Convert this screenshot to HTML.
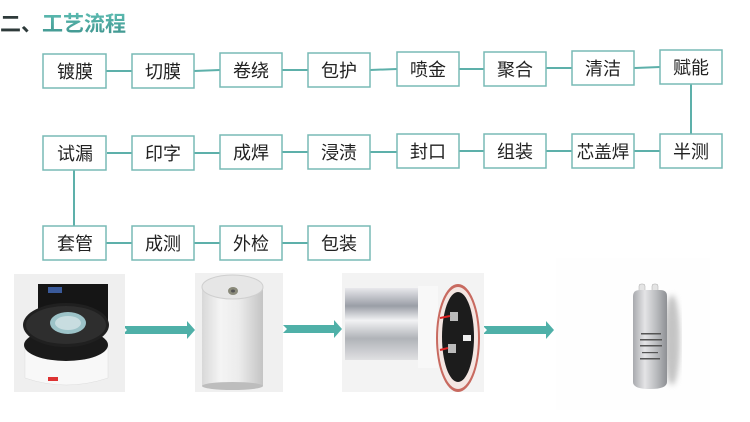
<!DOCTYPE html>
<html><head><meta charset="utf-8"><style>
html,body{margin:0;padding:0;background:#fff;}
svg{display:block;}
text{font-family:"Liberation Sans","Noto Sans CJK SC",sans-serif;}
</style></head><body>
<svg width="750" height="422" viewBox="0 0 750 422" xmlns="http://www.w3.org/2000/svg">
<defs>
<linearGradient id="tg" x1="0" y1="0" x2="0" y2="1"><stop offset="0" stop-color="#5bbab0"/><stop offset="1" stop-color="#3f948e"/></linearGradient>
<linearGradient id="cyl" x1="0" y1="0" x2="1" y2="0"><stop offset="0" stop-color="#d8d8d8"/><stop offset="0.3" stop-color="#f4f4f4"/><stop offset="0.6" stop-color="#ececec"/><stop offset="1" stop-color="#c4c4c4"/></linearGradient>
<linearGradient id="silv" x1="0" y1="0" x2="0" y2="1"><stop offset="0" stop-color="#e8e8ec"/><stop offset="0.25" stop-color="#9a9ea6"/><stop offset="0.45" stop-color="#f2f2f4"/><stop offset="0.7" stop-color="#b0b3b8"/><stop offset="1" stop-color="#e0e0e2"/></linearGradient>
<linearGradient id="cap" x1="0" y1="0" x2="1" y2="0"><stop offset="0" stop-color="#a8aaae"/><stop offset="0.35" stop-color="#e4e4e6"/><stop offset="0.7" stop-color="#b8babd"/><stop offset="1" stop-color="#8e9094"/></linearGradient>
<filter id="bl"><feGaussianBlur stdDeviation="3"/></filter>
</defs>

<!-- title -->
<text x="0" y="31" font-size="21" font-weight="bold" fill="#2e3a3a">二、<tspan fill="url(#tg)">工艺流程</tspan></text>

<!-- connectors -->
<g stroke="#5db0aa" stroke-width="2" fill="none">
<line x1="106" y1="71" x2="132" y2="71"/>
<line x1="194" y1="71" x2="220" y2="70"/>
<line x1="282" y1="70" x2="308" y2="70"/>
<line x1="370" y1="70" x2="397" y2="69"/>
<line x1="459" y1="69" x2="484" y2="69"/>
<line x1="546" y1="68" x2="572" y2="68"/>
<line x1="634" y1="68" x2="660" y2="67"/>
<line x1="691" y1="84" x2="691" y2="134"/>
<line x1="660" y1="151" x2="634" y2="151"/>
<line x1="572" y1="151" x2="546" y2="151"/>
<line x1="484" y1="151" x2="459" y2="151"/>
<line x1="397" y1="152" x2="370" y2="152"/>
<line x1="308" y1="152" x2="282" y2="152"/>
<line x1="220" y1="153" x2="194" y2="153"/>
<line x1="132" y1="153" x2="107" y2="153"/>
<line x1="74" y1="170" x2="74" y2="226"/>
<line x1="106" y1="243" x2="132" y2="243"/>
<line x1="194" y1="243" x2="220" y2="243"/>
<line x1="282" y1="243" x2="308" y2="243"/>
</g>

<!-- boxes -->
<g stroke="#78bab5" stroke-width="1.5" fill="#fff">
<rect x="43" y="54" width="63" height="34"/>
<rect x="132" y="54" width="62" height="34"/>
<rect x="220" y="53" width="62" height="34"/>
<rect x="308" y="53" width="62" height="34"/>
<rect x="397" y="52" width="62" height="34"/>
<rect x="484" y="52" width="62" height="34"/>
<rect x="572" y="51" width="62" height="34"/>
<rect x="660" y="50" width="62" height="34"/>
<rect x="43" y="136" width="63" height="34"/>
<rect x="132" y="136" width="62" height="34"/>
<rect x="220" y="135" width="62" height="34"/>
<rect x="308" y="135" width="62" height="34"/>
<rect x="397" y="134" width="62" height="34"/>
<rect x="484" y="134" width="62" height="34"/>
<rect x="572" y="134" width="62" height="34"/>
<rect x="660" y="134" width="62" height="34"/>
<rect x="43" y="226" width="63" height="34"/>
<rect x="132" y="226" width="62" height="34"/>
<rect x="220" y="226" width="62" height="34"/>
<rect x="308" y="226" width="62" height="34"/>
</g>

<g font-size="18" fill="#222" text-anchor="middle">
<text x="75" y="78">镀膜</text>
<text x="163" y="78">切膜</text>
<text x="251" y="77">卷绕</text>
<text x="339" y="77">包护</text>
<text x="428" y="76">喷金</text>
<text x="515" y="76">聚合</text>
<text x="603" y="75">清洁</text>
<text x="691" y="74">赋能</text>
<text x="75" y="160">试漏</text>
<text x="163" y="160">印字</text>
<text x="251" y="159">成焊</text>
<text x="339" y="159">浸渍</text>
<text x="428" y="158">封口</text>
<text x="515" y="158">组装</text>
<text x="603" y="158" font-size="17.5">芯盖焊</text>
<text x="691" y="158">半测</text>
<text x="75" y="250">套管</text>
<text x="163" y="250">成测</text>
<text x="251" y="250">外检</text>
<text x="339" y="250">包装</text>
</g>

<!-- big arrows -->
<g fill="#4fb0a8">
<polygon points="123,326 187,326 187,321 195,330 187,339 187,334 123,334 127,330"/>
<polygon points="283,325 334,325 334,320 342,329 334,338 334,333 283,333 287,329"/>
<polygon points="483,326 546,326 546,321 554,330 546,339 546,334 483,334 487,330"/>
</g>

<!-- photo 1: film roll -->
<rect x="14" y="274" width="111" height="118" fill="#efefef"/>
<path d="M25 345 L25 378 Q66 392 108 378 L108 345 Z" fill="#f8f8f8" stroke="#ddd" stroke-width="0.5"/>
<ellipse cx="66" cy="345" rx="42" ry="16" fill="#1a1a1a"/>
<rect x="38" y="284" width="70" height="40" fill="#151515"/>
<rect x="48" y="287" width="14" height="6" fill="#3a5a9a"/>
<ellipse cx="66" cy="325" rx="43" ry="22" fill="#202020"/>
<ellipse cx="66" cy="325" rx="40" ry="19" fill="#2e2e2e"/>
<ellipse cx="68" cy="323" rx="18" ry="11" fill="#9cc3c8"/>
<ellipse cx="68" cy="323" rx="13" ry="7" fill="#c8dde0"/>
<rect x="48" y="377" width="10" height="4" fill="#d33"/>

<!-- photo 2: cylinder -->
<rect x="195" y="273" width="88" height="119" fill="#f0f0f0"/>
<rect x="202" y="286" width="61" height="100" fill="url(#cyl)"/>
<ellipse cx="232.5" cy="386" rx="30.5" ry="4" fill="#bdbdbd"/>
<ellipse cx="232.5" cy="287" rx="30.5" ry="12" fill="#e6e6e6" stroke="#cfcfcf" stroke-width="1"/>
<ellipse cx="233" cy="291" rx="5" ry="4" fill="#8a8a7a"/>
<ellipse cx="233" cy="291" rx="2" ry="1.5" fill="#555"/>

<!-- photo 3: capacitor core -->
<rect x="342" y="273" width="142" height="119" fill="#f3f3f3"/>
<rect x="345" y="288" width="77" height="72" fill="url(#silv)"/>
<rect x="418" y="286" width="20" height="82" fill="#f8f8f8"/>
<ellipse cx="458" cy="338" rx="22" ry="54" fill="#c86a60"/>
<ellipse cx="458" cy="338" rx="20" ry="51" fill="#f4e6e2"/>
<ellipse cx="458" cy="337" rx="16" ry="45" fill="#1c1c1c"/>
<rect x="450" y="312" width="8" height="9" fill="#bbb"/>
<rect x="448" y="344" width="8" height="9" fill="#bbb"/>
<line x1="440" y1="318" x2="450" y2="316" stroke="#d22" stroke-width="2"/>
<line x1="440" y1="350" x2="448" y2="348" stroke="#d22" stroke-width="2"/>
<rect x="463" y="335" width="8" height="6" fill="#eee"/>

<!-- photo 4: final capacitor -->
<rect x="556" y="258" width="154" height="152" fill="#fefefe"/>
<ellipse cx="672" cy="340" rx="8" ry="45" fill="#c4c4c4" filter="url(#bl)"/>
<rect x="639" y="284" width="6" height="10" rx="2" fill="#e4e4e4" stroke="#aaa" stroke-width="0.5"/>
<rect x="652" y="284" width="6" height="10" rx="2" fill="#e4e4e4" stroke="#aaa" stroke-width="0.5"/>
<path d="M633 296 Q633 290 640 290 L660 290 Q667 290 667 296 L667 382 Q667 389 650 389 Q633 389 633 382 Z" fill="url(#cap)"/>
<g fill="#555">
<rect x="641" y="333" width="20" height="1.5"/>
<rect x="640" y="339" width="22" height="1.5"/>
<rect x="640" y="345" width="22" height="1.5"/>
<rect x="642" y="352" width="16" height="1.2"/>
<rect x="640" y="358" width="20" height="1.5"/>
</g>
</svg>
</body></html>
